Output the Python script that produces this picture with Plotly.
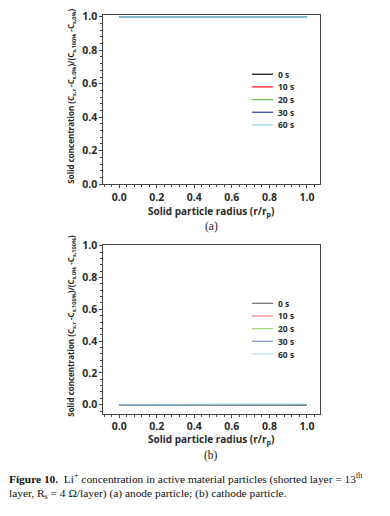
import plotly.graph_objects as go

# ---- data ----
radius = [0.0, 0.2, 0.4, 0.6, 0.8, 1.0]
series_names = ["0 s", "10 s", "20 s", "30 s", "60 s"]
anode_values = {
    "0 s":  [1.0, 1.0, 1.0, 1.0, 1.0, 1.0],
    "10 s": [1.0, 1.0, 1.0, 1.0, 1.0, 1.0],
    "20 s": [1.0, 1.0, 1.0, 1.0, 1.0, 1.0],
    "30 s": [1.0, 1.0, 1.0, 1.0, 1.0, 1.0],
    "60 s": [0.999, 0.999, 0.999, 0.999, 0.999, 0.999],
}
cathode_values = {
    "0 s":  [0.0, 0.0, 0.0, 0.0, 0.0, 0.0],
    "10 s": [0.0, 0.0, 0.0, 0.0, 0.0, 0.0],
    "20 s": [0.0, 0.0, 0.0, 0.0, 0.0, 0.0],
    "30 s": [0.0, 0.0, 0.0, 0.0, 0.0, 0.0],
    "60 s": [0.0, 0.0, 0.0, 0.0, 0.001, 0.003],
}
x_ticks = [0.0, 0.2, 0.4, 0.6, 0.8, 1.0]
y_ticks = [0.0, 0.2, 0.4, 0.6, 0.8, 1.0]

colors = ["#1a1a1a", "#ff2020", "#72c25e", "#3548b0", "#9bd6df"]
colors_b = ["#7a7a7a", "#f08a8a", "#a9d98f", "#8e9dd0", "#b8e4ea"]

W, H = 390, 516
def py(pix):  # pixel (from top) -> paper fraction
    return 1 - pix / H
def px(pix):
    return pix / W

fig = go.Figure()
for i, n in enumerate(series_names):
    fig.add_trace(go.Scatter(x=radius, y=anode_values[n], mode="lines", name=n,
                             line=dict(color=colors[i], width=1.6),
                             xaxis="x", yaxis="y", showlegend=False))
for i, n in enumerate(series_names):
    fig.add_trace(go.Scatter(x=radius, y=cathode_values[n], mode="lines", name=n,
                             line=dict(color=colors[i], width=1.6),
                             opacity=0.75,
                             xaxis="x2", yaxis="y2", showlegend=False))

tickfont = dict(family="Open Sans", size=10.5, color="#2a2a2a", weight="bold")
axis_common = dict(showgrid=False, zeroline=False, showline=True, linecolor="#444444",
                   linewidth=1, mirror=True, ticks="outside", ticklen=3,
                   tickcolor="#444444", tickwidth=1, tickfont=tickfont,
                   tickformat=".1f")
minor = dict(dtick=0.04, tick0=0, ticklen=2, tickcolor="#444444", ticks="outside")

xd = [px(103.3), px(319.5)]
fig.update_layout(
    width=W, height=H, margin=dict(l=0, r=0, t=0, b=0),
    paper_bgcolor="white", plot_bgcolor="white",
    xaxis=dict(domain=xd, range=[-0.085, 1.067], tickvals=x_ticks, minor=minor,
               anchor="y", **axis_common),
    yaxis=dict(domain=[py(182.7), py(9)], range=[0, 1.012], tickvals=y_ticks, minor=minor,
               anchor="x", **axis_common),
    xaxis2=dict(domain=xd, range=[-0.085, 1.067], tickvals=x_ticks, minor=minor,
                anchor="y2", **axis_common),
    yaxis2=dict(domain=[py(418.3), py(245)], range=[-0.057, 1.006], tickvals=y_ticks, minor=minor,
                anchor="x2", **axis_common),
)

ann = []
shapes = []
title_font = dict(family="Open Sans", size=10, color="#2a2a2a", weight="bold")
# x titles
for yc in [210.5, 444.5]:
    ann.append(dict(x=px(211.5), y=py(yc), xref="paper", yref="paper",
                    text="Solid particle radius (r/r<sub>p</sub>)",
                    showarrow=False, font=title_font, xanchor="center", yanchor="middle"))
# y titles
ytf = dict(family="Open Sans", size=8, color="#2a2a2a", weight="bold")
ann.append(dict(x=px(72), y=py(93), xref="paper", yref="paper", textangle=-90,
                text="Solid concentration (C<sub>s,r</sub> -C<sub>s,0%</sub>)/(C<sub>s,100%</sub> -C<sub>s,0%</sub>)",
                showarrow=False, font=ytf, xanchor="center", yanchor="middle"))
ann.append(dict(x=px(72), y=py(328), xref="paper", yref="paper", textangle=-90,
                text="Solid concentration (C<sub>s,r</sub> -C<sub>s,100%</sub>)/(C<sub>s,0%</sub> -C<sub>s,100%</sub>)",
                showarrow=False, font=ytf, xanchor="center", yanchor="middle"))
# panel labels
serif = dict(family="Liberation Serif", size=11.5, color="#222222")
ann.append(dict(x=px(211), y=py(226.7), xref="paper", yref="paper", text="(a)",
                showarrow=False, font=serif, xanchor="center", yanchor="middle"))
ann.append(dict(x=px(210.5), y=py(460.7), xref="paper", yref="paper", text="(b)",
                showarrow=False, font=serif, xanchor="center", yanchor="middle"))

# legends
leg_font = dict(family="Open Sans", size=8.5, color="#2a2a2a", weight="bold")
for start, cols in [(70, colors), (305, colors_b)]:
    for i, n in enumerate(series_names):
        yy = start + i * 13
        shapes.append(dict(type="line", xref="paper", yref="paper",
                           x0=px(252), x1=px(273), y0=py(yy), y1=py(yy),
                           line=dict(color=cols[i], width=1.3)))
        ann.append(dict(x=px(276), y=py(yy), xref="paper", yref="paper", text=n,
                        showarrow=False, font=leg_font, xanchor="left", yanchor="middle"))

# caption
cap_font = dict(family="Liberation Serif", size=11.4, color="#111111")
ann.append(dict(x=px(7), y=py(485), xref="paper", yref="paper", xanchor="left", yanchor="middle",
                text="<b>Figure 10.</b>  Li<sup>+</sup> concentration in active material particles (shorted layer = 13<sup>th</sup>",
                showarrow=False, font=cap_font))
ann.append(dict(x=px(7), y=py(500.7), xref="paper", yref="paper", xanchor="left", yanchor="middle",
                text="layer, R<sub>s</sub> = 4 Ω/layer) (a) anode particle; (b) cathode particle.",
                showarrow=False, font=cap_font))

fig.update_layout(annotations=ann, shapes=shapes)
fig.write_html("out.html", config={"displayModeBar": False},
               post_script="document.body.style.margin='0';document.body.style.overflow='hidden';")
